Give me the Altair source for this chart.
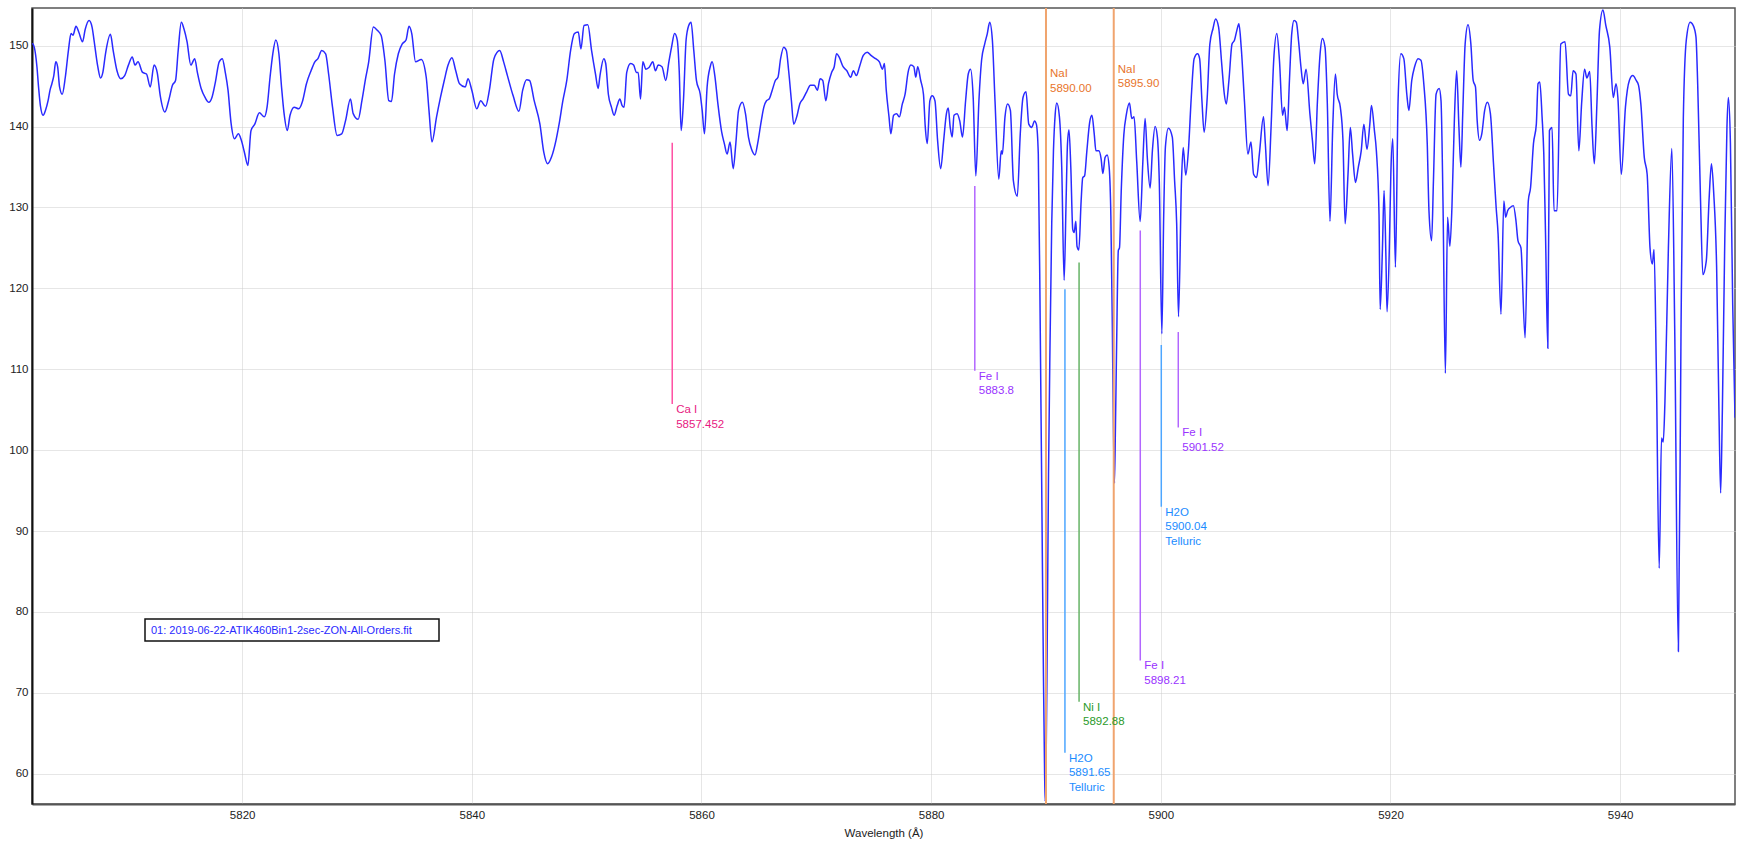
import altair as alt
import pandas as pd

# ---- Spectrum: wavelength (Angstrom) and intensity ----
wavelength = [
    5801.72, 5801.9, 5802.13, 5802.27, 5802.43, 5802.67, 5802.87, 5803.1, 5803.27, 5803.43,
    5803.6, 5803.77, 5803.93, 5804.1, 5804.33, 5804.6, 5804.87, 5805.1, 5805.27, 5805.53,
    5805.77, 5806.1, 5806.33, 5806.67, 5806.93, 5807.1, 5807.43, 5807.67, 5807.87, 5808.1,
    5808.53, 5808.77, 5809.1, 5809.43, 5809.77, 5810.1, 5810.43, 5810.67, 5810.93, 5811.33,
    5811.67, 5812.0, 5812.33, 5812.6, 5812.87, 5813.27, 5813.6, 5813.93, 5814.2, 5814.43,
    5814.7, 5814.93, 5815.2, 5815.53, 5815.87, 5816.1, 5816.43, 5816.77, 5817.1, 5817.37,
    5817.67, 5818.0, 5818.27, 5818.53, 5818.77, 5819.03, 5819.33, 5819.67, 5819.93, 5820.2,
    5820.5, 5820.77, 5821.1, 5821.5, 5821.93, 5822.17, 5822.43, 5822.67, 5822.93, 5823.2,
    5823.43, 5823.67, 5823.93, 5824.17, 5824.53, 5824.93, 5825.27, 5825.6, 5826.0, 5826.33,
    5826.6, 5826.93, 5827.27, 5827.53, 5827.87, 5828.27, 5828.67, 5829.0, 5829.43, 5829.67,
    5830.1, 5830.43, 5830.77, 5831.0, 5831.43, 5831.77, 5832.1, 5832.43, 5832.77, 5833.0,
    5833.27, 5833.6, 5833.93, 5834.27, 5834.53, 5834.77, 5835.1, 5835.6, 5836.03, 5836.27,
    5836.53, 5836.93, 5837.27, 5837.6, 5837.93, 5838.27, 5838.6, 5838.93, 5839.43, 5839.67,
    5840.0, 5840.43, 5840.77, 5841.2, 5841.53, 5841.93, 5842.43, 5842.77, 5843.1, 5843.6,
    5844.1, 5844.43, 5844.77, 5845.03, 5845.43, 5845.93, 5846.27, 5846.6, 5846.93, 5847.33,
    5847.6, 5847.93, 5848.27, 5848.6, 5848.93, 5849.27, 5849.5, 5849.77, 5850.1, 5850.43,
    5850.77, 5851.0,
    5851.16, 5851.49, 5851.66, 5851.89, 5852.16, 5852.39, 5852.66, 5852.89, 5853.09, 5853.26,
    5853.49, 5853.83, 5854.09, 5854.33, 5854.49, 5854.69, 5854.89, 5855.16, 5855.43, 5855.76,
    5855.99, 5856.23, 5856.56, 5856.89, 5857.16, 5857.39, 5857.66, 5857.89, 5858.06, 5858.23,
    5858.43, 5858.66, 5858.89, 5859.09, 5859.33, 5859.56, 5859.89, 5860.06, 5860.26, 5860.49,
    5860.76, 5860.93, 5861.16, 5861.43, 5861.76, 5861.99, 5862.23, 5862.49, 5862.76, 5862.99,
    5863.23, 5863.56, 5863.83, 5864.09, 5864.36, 5864.66, 5864.89, 5865.16, 5865.43, 5865.66,
    5865.89, 5866.16, 5866.43, 5866.66, 5866.89, 5867.16, 5867.39, 5867.59, 5867.83, 5868.03,
    5868.33, 5868.56, 5868.83, 5869.16, 5869.49, 5869.83, 5870.09, 5870.33, 5870.56, 5870.83,
    5871.06, 5871.33, 5871.56, 5871.76, 5871.99, 5872.33, 5872.66, 5872.99, 5873.23, 5873.49,
    5873.76, 5874.09, 5874.43, 5874.76, 5875.16, 5875.49, 5875.76, 5875.93, 5876.09, 5876.33,
    5876.49, 5876.73, 5876.99, 5877.23, 5877.49, 5877.73, 5877.99, 5878.23, 5878.49, 5878.66,
    5878.83, 5879.09, 5879.33, 5879.49, 5879.66, 5879.89, 5880.09, 5880.33, 5880.56, 5880.83,
    5881.09, 5881.33, 5881.49, 5881.66, 5881.83, 5881.99, 5882.26, 5882.49, 5882.73, 5883.0,
    5883.23, 5883.43, 5883.66, 5883.89, 5884.16, 5884.39, 5884.66, 5884.89, 5885.1, 5885.33,
    5885.56, 5885.89, 5886.1, 5886.2, 5886.43, 5886.66, 5886.9, 5887.16, 5887.5, 5887.76,
    5888.0, 5888.26, 5888.5, 5888.76, 5889.0, 5889.16, 5889.33,
    5889.5, 5889.65, 5889.78, 5889.88, 5889.93, 5890.0, 5890.1, 5890.22, 5890.35, 5890.5,
    5890.65, 5890.8, 5890.94, 5891.17, 5891.37, 5891.58, 5891.75, 5891.87, 5892.0, 5892.16,
    5892.33, 5892.45, 5892.6, 5892.7, 5892.86, 5893.06, 5893.2, 5893.36, 5893.56, 5893.8,
    5894.0, 5894.2, 5894.35, 5894.6, 5894.8, 5894.95, 5895.15, 5895.33, 5895.5, 5895.65,
    5895.78, 5895.88, 5895.96, 5896.05, 5896.15, 5896.3, 5896.4, 5896.55, 5896.78, 5897.0,
    5897.27, 5897.47, 5897.67, 5897.9, 5898.2, 5898.43, 5898.63, 5898.83, 5899.07, 5899.27,
    5899.5, 5899.7, 5899.87, 5900.09, 5900.25, 5900.4, 5900.66, 5901.0, 5901.2, 5901.38,
    5901.54, 5901.8, 5901.95, 5902.17,
    5902.4, 5902.65, 5902.9, 5903.2, 5903.38, 5903.58, 5903.77, 5904.04, 5904.27, 5904.54,
    5904.77, 5905.03, 5905.3, 5905.53, 5905.7, 5905.93, 5906.2, 5906.42, 5906.62, 5906.8,
    5907.0, 5907.28, 5907.58, 5907.85, 5908.08, 5908.34, 5908.58, 5908.94, 5909.1, 5909.34,
    5909.6, 5909.83, 5910.1, 5910.33, 5910.6, 5910.76, 5911.0, 5911.2, 5911.4, 5911.6,
    5911.8, 5912.0, 5912.2, 5912.4, 5912.65, 5912.98, 5913.2, 5913.4, 5913.64, 5913.87,
    5914.07, 5914.3, 5914.5, 5914.73, 5914.97, 5915.2, 5915.36, 5915.63, 5915.86, 5916.05,
    5916.3, 5916.5, 5916.7, 5916.95, 5917.2, 5917.45, 5917.68, 5917.95, 5918.2, 5918.34,
    5918.6, 5918.77, 5919.0, 5919.1, 5919.3, 5919.44, 5919.6, 5919.7, 5919.9, 5920.03,
    5920.2, 5920.43, 5920.66, 5920.9, 5921.16, 5921.42, 5921.6, 5921.85, 5922.1, 5922.4,
    5922.65, 5922.9, 5923.2, 5923.35, 5923.58, 5923.74, 5923.97, 5924.24, 5924.4, 5924.57,
    5924.78, 5924.97, 5925.17, 5925.35, 5925.56, 5925.76, 5925.96, 5926.13, 5926.3, 5926.5,
    5926.75, 5927.0, 5927.2, 5927.4, 5927.55, 5927.75, 5927.95, 5928.2, 5928.44, 5928.7,
    5928.97, 5929.2, 5929.37, 5929.62, 5929.87, 5930.03, 5930.2, 5930.43, 5930.7, 5930.93,
    5931.1, 5931.36, 5931.72, 5932.0, 5932.2, 5932.45, 5932.7, 5932.85, 5933.0, 5933.2,
    5933.35, 5933.5, 5933.7, 5933.84, 5934.07, 5934.24, 5934.5, 5934.83, 5935.2, 5935.5,
    5935.7, 5935.9, 5936.15, 5936.4, 5936.65, 5936.9, 5937.1, 5937.35, 5937.55, 5937.75,
    5937.98, 5938.2, 5938.5, 5938.75, 5939.1, 5939.4, 5939.64, 5939.8, 5940.1, 5940.46,
    5940.8, 5941.1, 5941.4, 5941.6, 5941.8, 5942.1, 5942.35, 5942.6, 5942.8, 5942.95,
    5943.15, 5943.4, 5943.6, 5943.75, 5943.9, 5944.2, 5944.5, 5944.75, 5945.07, 5945.3,
    5945.5, 5945.76, 5946.1, 5946.36, 5946.6, 5946.75, 5947.0, 5947.2, 5947.5, 5947.75,
    5947.95, 5948.15, 5948.4, 5948.6, 5948.75, 5948.9, 5949.1, 5949.3, 5949.42, 5949.6,
    5949.8, 5950.0,
]

intensity = [
    150.3, 149.8, 147.4, 144.9, 142.6, 141.4, 142.0, 143.2, 144.5, 145.3,
    146.3, 148.0, 147.4, 144.9, 144.0, 146.1, 149.4, 151.5, 151.3, 152.4,
    151.7, 150.5, 152.0, 153.1, 152.3, 150.7, 147.4, 146.0, 146.7, 149.0,
    151.4, 149.4, 146.9, 145.9, 146.3, 147.6, 148.6, 147.6, 148.0, 146.7,
    146.5, 144.9, 147.6, 146.7, 143.8, 141.8, 143.2, 145.1, 145.7, 149.4,
    152.9, 152.1, 150.5, 147.6, 148.4, 146.7, 144.7, 143.6, 143.0, 143.6,
    145.5, 148.0, 148.4, 146.7, 144.5, 140.5, 138.5, 139.1, 138.3, 136.8,
    135.2, 139.5, 140.3, 141.7, 141.2, 142.4, 146.1, 149.0, 150.7, 149.0,
    144.9, 141.4, 139.5, 141.4, 142.4, 142.2, 143.2, 145.3, 146.9, 148.0,
    148.4, 149.4, 149.0, 146.5, 142.4, 138.9, 139.1, 140.7, 143.4, 141.6,
    140.9, 143.2, 146.1, 147.8, 152.3, 151.9, 151.3, 148.2, 143.2, 143.1,
    146.5, 149.0, 150.2, 150.7, 152.4, 151.5, 148.0, 148.3, 146.1, 142.0,
    138.1, 141.2, 143.6, 145.7, 147.6, 148.5, 146.9, 145.3, 144.9, 145.9,
    144.5, 142.2, 143.2, 142.5, 144.5, 148.4, 149.4, 148.0, 146.3, 143.8,
    141.9, 144.5, 145.8, 145.7, 143.2, 140.3, 136.8, 135.4, 136.2, 138.3,
    140.3, 143.2, 145.7, 149.4, 151.5, 151.7, 149.6, 152.5, 152.6, 149.4,
    146.5, 144.7,
    146.3, 148.4, 147.8, 144.0, 142.4, 141.4, 142.6, 143.4, 142.6, 142.4,
    146.7, 147.8, 147.6, 146.7, 146.7, 143.4, 148.0, 147.1, 147.3, 148.0,
    146.9, 147.6, 147.4, 145.7, 148.0, 149.8, 151.5, 150.7, 146.9, 139.5,
    143.2, 150.7, 152.5, 152.9, 149.4, 145.7, 144.0, 142.0, 139.1, 144.9,
    147.4, 148.0, 146.3, 142.8, 139.3, 137.9, 136.6, 138.1, 134.8, 137.9,
    142.0, 143.0, 141.6, 138.7, 137.2, 136.5, 137.9, 140.3, 142.4, 143.2,
    143.4, 144.5, 145.7, 146.1, 148.4, 149.8, 149.4, 146.9, 143.2, 140.3,
    141.4, 142.8, 143.4, 144.3, 145.1, 145.1, 144.5, 145.9, 145.7, 143.2,
    145.3, 146.7, 147.4, 149.0, 148.6, 147.4, 146.9, 146.1, 146.9, 146.3,
    147.4, 148.8, 149.2, 148.8, 148.4, 148.0, 147.1, 147.8, 144.5, 141.2,
    139.1, 141.4, 141.6, 141.2, 142.8, 144.0, 146.7, 147.6, 147.4, 146.1,
    147.4, 145.7, 144.0, 139.9, 137.9, 143.2, 143.8, 143.2, 138.3, 134.8,
    138.3, 141.6, 142.3, 139.9, 138.7, 141.4, 141.6, 140.7, 138.7, 143.2,
    146.5, 147.1, 143.6, 133.9, 143.2, 148.2, 150.2, 151.5, 152.9, 150.7,
    143.2, 133.5, 137.0, 136.6, 141.2, 142.8, 142.0, 133.3, 131.4, 139.1,
    143.6, 144.3, 140.3, 139.9, 140.7, 140.3, 136.6,
    115.0, 92.0, 72.0, 60.0, 56.6, 60.0, 75.0, 97.0, 113.0, 128.0,
    137.0, 141.5, 142.9, 141.2, 135.0, 121.0, 130.8, 137.8, 139.6, 135.0,
    127.3, 126.9, 128.3, 125.2, 124.75, 130.8, 133.7, 133.9, 137.0, 140.5,
    141.4, 139.1, 137.0, 137.0, 136.0, 134.2, 136.2, 136.5, 135.0, 128.9,
    115.0, 102.0, 95.9, 103.0, 113.0, 124.7, 125.0, 131.9, 139.0, 141.5,
    142.9, 141.0, 141.2, 135.7, 128.25, 135.5, 141.0, 136.0, 132.4, 137.1,
    140.0, 138.7, 133.0, 114.4, 129.0, 137.5, 139.8, 138.7, 133.3, 128.0,
    116.5, 133.3, 137.4, 134.0,
    137.0, 143.6, 148.4, 149.0, 148.4, 143.2, 139.3, 143.6, 150.2, 152.1,
    153.3, 152.3, 147.8, 144.0, 142.8, 145.7, 150.2, 150.7, 151.9, 152.7,
    149.8, 143.2, 136.6, 138.1, 134.1, 133.7, 136.6, 141.2, 137.9, 132.7,
    139.9, 148.2, 151.5, 148.2, 141.4, 142.4, 139.5, 145.7, 151.5, 153.1,
    152.9, 150.5, 147.4, 145.3, 147.1, 141.6, 138.3, 135.4, 143.2, 149.0,
    150.9, 149.8, 142.8, 128.3, 139.9, 146.5, 144.0, 142.4, 138.3, 128.0,
    134.1, 139.9, 136.6, 133.1, 135.0, 137.0, 140.3, 137.2, 140.3, 142.6,
    139.5, 137.0, 129.2, 117.4, 125.0, 132.1, 124.0, 117.1, 125.0, 134.1,
    138.5, 122.6, 143.2, 149.0, 148.4, 144.0, 142.0, 145.7, 147.4, 148.4,
    148.2, 145.3, 137.9, 129.6, 125.9, 133.3, 144.0, 144.7, 143.2, 130.8,
    109.5, 128.8, 125.2, 130.0, 140.7, 146.9, 139.9, 135.0, 142.0, 150.2,
    152.6, 150.2, 145.7, 144.9, 140.7, 138.3, 139.1, 142.0, 143.0, 141.6,
    135.4, 130.0, 126.7, 116.8, 130.8, 128.8, 129.6, 130.0, 130.2, 128.3,
    125.9, 125.0, 113.9, 130.8, 132.5, 137.9, 140.3, 145.3, 145.5, 141.2,
    136.6, 126.7, 112.6, 139.5, 139.9, 129.6, 129.6, 150.2, 150.5, 144.0,
    143.8, 146.9, 146.5, 137.0, 143.0, 147.1, 146.0, 146.8, 140.0, 135.4,
    143.0, 151.9, 154.4, 152.5, 149.8, 143.6, 145.3, 143.6, 134.1, 142.4,
    145.7, 146.3, 145.7, 145.1, 142.8, 136.2, 134.1, 125.0, 123.0, 124.8,
    110.0, 85.4, 101.5, 101.0, 106.0, 125.0, 137.3, 115.0, 75.1, 115.0,
    141.0, 150.7, 152.9, 152.5, 151.1, 145.3, 130.8, 121.7, 123.4, 131.2,
    135.4, 131.7, 122.6, 105.0, 94.7, 105.0, 125.0, 140.0, 143.6, 138.0,
    118.0, 104.0,
]

# ---- Identified lines ----
line_wavelength = [5857.452, 5883.8, 5890.00, 5891.65, 5892.88, 5895.90, 5898.21, 5900.04, 5901.52]
line_top = [138.0, 132.66, 154.66, 119.9, 123.2, 154.66, 127.16, 113.0, 114.6]
line_bottom = [105.7, 109.8, 56.25, 62.6, 68.9, 56.25, 74.0, 93.0, 102.8]
line_label = [
    "Ca I\n5857.452", "Fe I\n5883.8", "NaI\n5890.00", "H2O\n5891.65\nTelluric",
    "Ni I\n5892.88", "NaI\n5895.90", "Fe I\n5898.21", "H2O\n5900.04\nTelluric",
    "Fe I\n5901.52",
]
label_y = [105.7, 109.8, 147.24, 62.6, 68.9, 147.74, 74.0, 93.0, 102.8]
rule_color = ["#ff4fa3", "#b266ff", "#f0a46e", "#4da6ff", "#66b366", "#f0a46e", "#b266ff", "#4da6ff", "#b266ff"]
text_color = ["#e8197f", "#9a33ff", "#e8742a", "#1a8cff", "#2a9a2a", "#e8742a", "#9a33ff", "#1a8cff", "#9a33ff"]
rule_width = [1.5, 1.5, 2, 1.5, 1.5, 2, 1.5, 1.5, 1.5]

series_name = ["01: 2019-06-22-ATIK460Bin1-2sec-ZON-All-Orders.fit"]

X_DOMAIN = [5801.7, 5950.0]
Y_DOMAIN = [56.25, 154.66]
FONT = "Liberation Sans"

spec_df = pd.DataFrame({"wavelength": wavelength, "intensity": intensity})
lines_df = pd.DataFrame({
    "wavelength": line_wavelength, "top": line_top, "bottom": line_bottom,
    "label": line_label, "label_y": label_y, "rule_color": rule_color,
    "text_color": text_color, "rule_width": rule_width,
})
legend_df = pd.DataFrame({"name": series_name})

x_scale = alt.Scale(domain=X_DOMAIN, nice=False, zero=False)
y_scale = alt.Scale(domain=Y_DOMAIN, nice=False, zero=False)

x_axis = alt.Axis(
    values=list(range(5820, 5941, 20)), format="d", title="Wavelength (Å)",
    grid=True, gridColor="#cdcdcd", gridDash=[1, 1], ticks=False, tickSize=0,
    domain=True, domainColor="#555555", domainWidth=2,
    labelPadding=5, titlePadding=7,
)
y_axis = alt.Axis(
    values=list(range(60, 151, 10)), title=None,
    grid=True, gridColor="#cdcdcd", gridDash=[1, 1], ticks=False, tickSize=0,
    domain=True, domainColor="#111111", domainWidth=2, labelPadding=4,
)

spectrum = alt.Chart(spec_df).mark_line(
    color="#2a2aff", strokeWidth=1.5, interpolate="monotone", clip=True
).encode(
    x=alt.X("wavelength:Q", scale=x_scale, axis=x_axis),
    y=alt.Y("intensity:Q", scale=y_scale, axis=y_axis),
)

rules = alt.Chart(lines_df).mark_rule(clip=True).encode(
    x=alt.X("wavelength:Q", scale=x_scale),
    y=alt.Y("top:Q", scale=y_scale),
    y2="bottom:Q",
    color=alt.Color("rule_color:N", scale=None),
    strokeWidth=alt.StrokeWidth("rule_width:Q", scale=None),
)

labels = alt.Chart(lines_df).mark_text(
    align="left", baseline="top", dx=4, dy=0, font=FONT, fontSize=11.5,
    lineHeight=14.5, lineBreak="\n",
).encode(
    x=alt.X("wavelength:Q", scale=x_scale),
    y=alt.Y("label_y:Q", scale=y_scale),
    text="label:N",
    color=alt.Color("text_color:N", scale=None),
)

legend_box = alt.Chart(legend_df).mark_rect(
    fill="white", stroke="#111111", strokeWidth=1.5
).encode(
    x=alt.value(113), x2=alt.value(407), y=alt.value(611), y2=alt.value(633)
)
legend_text = alt.Chart(legend_df).mark_text(
    align="left", baseline="middle", font=FONT, fontSize=11, color="#2a2aff"
).encode(x=alt.value(119), y=alt.value(622.5), text="name:N")

chart = alt.layer(spectrum, rules, labels, legend_box, legend_text).properties(
    width=1703, height=796,
    padding={"left": 32, "top": 8, "right": 11, "bottom": 44},
    autosize=alt.AutoSizeParams(type="none"),
    background="white",
).configure_view(
    stroke="#555555", strokeWidth=1.5
).configure_axis(
    labelFont=FONT, labelFontSize=11.5, labelColor="#222222",
    titleFont=FONT, titleFontSize=11.5, titleColor="#222222", titleFontWeight="normal",
)

chart.save("out.html", embed_options={"renderer": "svg", "actions": False})
